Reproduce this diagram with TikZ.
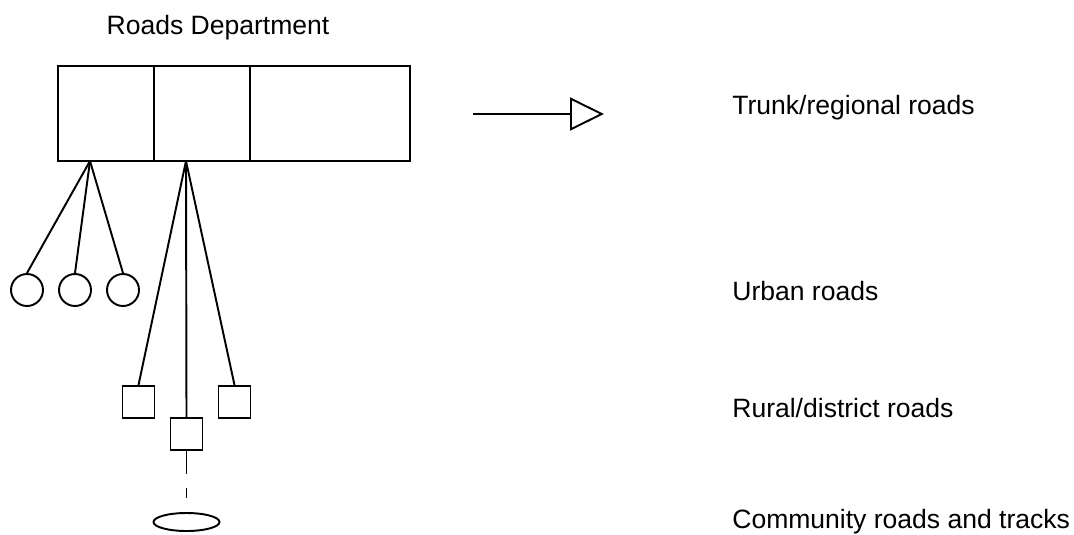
\documentclass[tikz,border=0pt]{standalone}
\usepackage{fontspec}
\setmainfont{Liberation Sans}
\usetikzlibrary{arrows.meta,shapes.geometric,positioning}
\tikzstyle{cell}=[rectangle, draw, line width=1.1pt, inner sep=0pt, minimum height=1.9cm]
\tikzstyle{ball}=[circle, draw, line width=1.1pt, inner sep=0pt, minimum size=0.64cm]
\tikzstyle{sq}=[rectangle, draw, line width=1.1pt, inner sep=0pt, minimum size=0.64cm]
\tikzstyle{lbl}=[inner sep=0pt, anchor=base west, font=\fontsize{15.1pt}{18pt}\selectfont]

\begin{document}
\begin{tikzpicture}[x=0.02cm, y=-0.02cm]
\useasboundingbox (0,0) rectangle (1074,534);
%\draw[help lines, step=50] (0,0) grid (1074,534);
\node[lbl, anchor=base] (dept) at (218,34) {Roads Department};
\node[cell, minimum width=1.92cm] (c1) at (106,113.5) {};
\node[cell, minimum width=1.92cm] (c2) at (202,113.5) {};
\node[cell, minimum width=3.2cm] (c3) at (330,113.5) {};
\coordinate (j1) at (90,161);
\coordinate (j2) at (186,161);

\node[ball] (b1) at (27,290) {};
\node[ball] (b2) at (75,290) {};
\node[ball] (b3) at (123,290) {};
\draw [line width=1.1pt] (j1) -- (b1.north);
\draw [line width=1.1pt] (j1) -- (b2.north);
\draw [line width=1.1pt] (j1) -- (b3.north);

\node[sq] (s1) at (138.5,402) {};
\node[sq] (s2) at (186.5,434) {};
\node[sq] (s3) at (234.5,402) {};
\draw [line width=1.1pt] (j2) -- (s1.north);
\draw [line width=1.1pt] (j2) -- (s2.north);
\draw [line width=1.1pt] (j2) -- (s3.north);
\node[ellipse, draw, line width=1.1pt, inner sep=0pt, minimum width=1.32cm, minimum height=0.36cm] (e1) at (186.5,522) {};
\draw [line width=0.5pt, dash pattern=on 0.46cm off 0.28cm on 0.2cm off 0.3cm] (s2.south) -- (e1.north);

\coordinate (as) at (473,114);
\coordinate (ae) at (604,114);
\draw [-{Triangle[open, length=0.68cm, width=0.66cm]}, line width=1.1pt] (as) -- (ae);

\node[lbl] (trunk) at (732,114) {Trunk/regional roads};
\node[lbl] (urban) at (732,300) {Urban roads};
\node[lbl] (rural) at (732,417) {Rural/district roads};
\node[lbl] (comm) at (732,528) {Community roads and tracks};
\end{tikzpicture}
\end{document}
